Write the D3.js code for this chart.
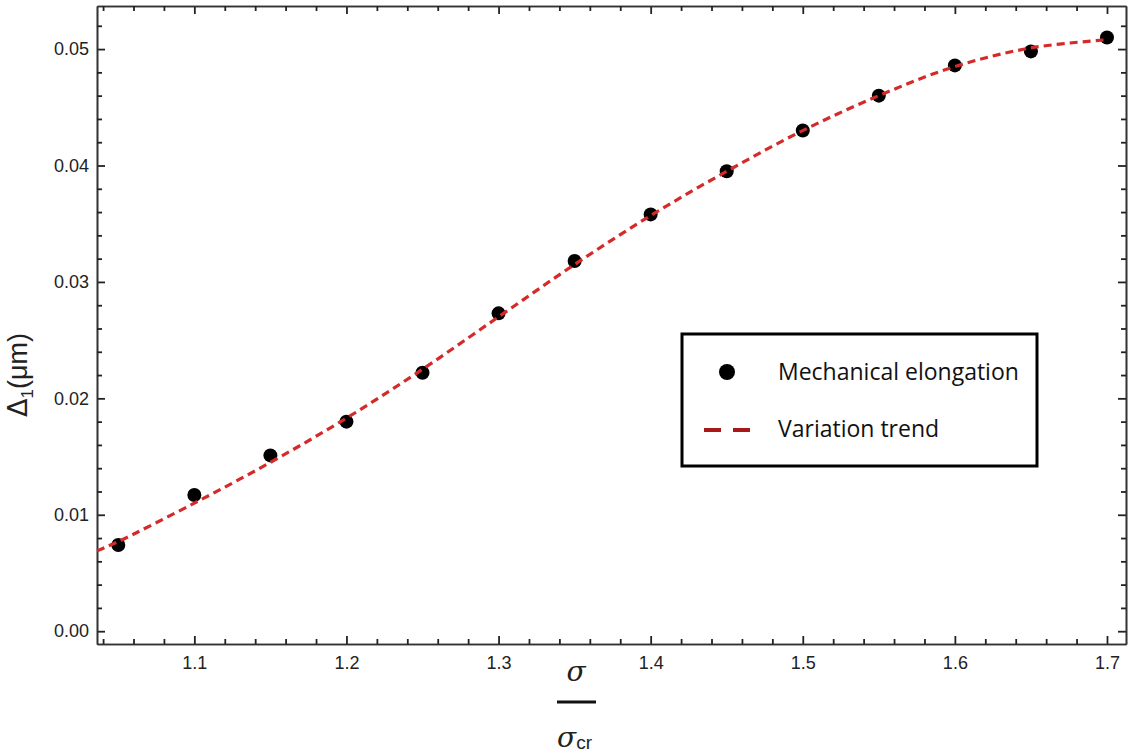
<!DOCTYPE html>
<html>
<head>
    <script src="https://d3js.org/d3.v7.min.js"></script>
    <style>
        body { margin: 0; background: #fff; }
        .tick text { font-family: "Liberation Sans", Arial, sans-serif; font-size: 18px; fill: #222; }
        .legend-text { font-family: "Open Sans", sans-serif; font-size: 23px; fill: #111; }
    </style>
</head>
<body>
    <div id="graph"></div>
    <script>
        // measured points (sigma / sigma_cr, elongation in um)
        const ratio = [1.05, 1.1, 1.15, 1.2, 1.25, 1.3, 1.35, 1.4, 1.45, 1.5, 1.55, 1.6, 1.65, 1.7];
        const elongation = [0.0074, 0.0117, 0.0151, 0.0180, 0.0222, 0.0273, 0.0318, 0.0358, 0.0395, 0.0430, 0.0460, 0.0486, 0.0498, 0.0510];

        // fitted trend line
        const trendX = [1.036, 1.05, 1.1, 1.15, 1.2, 1.25, 1.3, 1.35, 1.4, 1.45, 1.5, 1.55, 1.6, 1.65, 1.7];
        const trendY = [0.0069, 0.0077, 0.0110, 0.0145, 0.0183, 0.0225, 0.0270, 0.0315, 0.0357, 0.0395, 0.0430, 0.0460, 0.0485, 0.0501, 0.0508];

        const xTicks = [1.1, 1.2, 1.3, 1.4, 1.5, 1.6, 1.7];
        const yTicks = [0.00, 0.01, 0.02, 0.03, 0.04, 0.05];

        const legendLabels = ["Mechanical elongation", "Variation trend"];

        const W = 1129, H = 755;
        const margin = { top: 6, right: 3, bottom: 111, left: 97 };
        const width = W - margin.left - margin.right,
            height = H - margin.top - margin.bottom;

        const x = d3.scaleLinear().domain([1.036, 1.7125]).range([0, width]);
        const y = d3.scaleLinear().domain([-0.0011, 0.0537]).range([height, 0]);

        const svg = d3.select("#graph").append("svg")
            .attr("width", W)
            .attr("height", H);

        const g = svg.append("g")
            .attr("transform", "translate(" + margin.left + "," + margin.top + ")");

        // minor tick positions
        const xMinor = d3.range(1.04, 1.7125, 0.02).filter(v => !xTicks.some(t => Math.abs(t - v) < 1e-6));
        const yMinor = d3.range(0, 0.0537, 0.002).filter(v => !yTicks.some(t => Math.abs(t - v) < 1e-6));

        function styleAxis(sel) {
            sel.selectAll(".domain").attr("stroke", "#333").attr("stroke-width", 1.6);
            sel.selectAll(".tick line").attr("stroke", "#222").attr("stroke-width", 1.8);
        }

        // bottom axis with labels
        g.append("g")
            .attr("transform", "translate(0," + height + ")")
            .call(d3.axisBottom(x).tickValues(xTicks).tickFormat(d3.format(".1f")).tickSizeInner(-8).tickSizeOuter(0).tickPadding(12))
            .call(styleAxis);
        g.append("g")
            .attr("transform", "translate(0," + height + ")")
            .call(d3.axisBottom(x).tickValues(xMinor).tickFormat("").tickSizeInner(-5).tickSizeOuter(0))
            .call(styleAxis);

        // top axis, no labels
        g.append("g")
            .call(d3.axisTop(x).tickValues(xTicks).tickFormat("").tickSizeInner(-8).tickSizeOuter(0))
            .call(styleAxis);
        g.append("g")
            .call(d3.axisTop(x).tickValues(xMinor).tickFormat("").tickSizeInner(-5).tickSizeOuter(0))
            .call(styleAxis);

        // left axis with labels
        g.append("g")
            .call(d3.axisLeft(y).tickValues(yTicks).tickFormat(d3.format(".2f")).tickSizeInner(-8).tickSizeOuter(0).tickPadding(8))
            .call(styleAxis);
        g.append("g")
            .call(d3.axisLeft(y).tickValues(yMinor).tickFormat("").tickSizeInner(-5).tickSizeOuter(0))
            .call(styleAxis);

        // right axis, no labels
        g.append("g")
            .attr("transform", "translate(" + width + ",0)")
            .call(d3.axisRight(y).tickValues(yTicks).tickFormat("").tickSizeInner(-8).tickSizeOuter(0))
            .call(styleAxis);
        g.append("g")
            .attr("transform", "translate(" + width + ",0)")
            .call(d3.axisRight(y).tickValues(yMinor).tickFormat("").tickSizeInner(-5).tickSizeOuter(0))
            .call(styleAxis);

        // data points
        g.append("g")
            .selectAll("circle")
            .data(ratio.map((r, i) => [r, elongation[i]]))
            .join("circle")
            .attr("cx", d => x(d[0]))
            .attr("cy", d => y(d[1]))
            .attr("r", 7)
            .attr("fill", "#000");

        // trend line (drawn over the dots)
        const line = d3.line()
            .x(d => x(d[0]))
            .y(d => y(d[1]))
            .curve(d3.curveCatmullRom);

        g.append("path")
            .datum(trendX.map((v, i) => [v, trendY[i]]))
            .attr("d", line)
            .attr("fill", "none")
            .attr("stroke", "#d42a2a")
            .attr("stroke-width", 3.2)
            .attr("stroke-dasharray", "8,5");

        // y axis title
        const yTitle = svg.append("text")
            .attr("transform", "translate(27,375) rotate(-90)")
            .attr("text-anchor", "middle")
            .attr("font-family", "Liberation Sans, Arial, sans-serif")
            .attr("font-size", 27)
            .attr("fill", "#222");
        yTitle.append("tspan").attr("font-family", "DejaVu Sans, sans-serif").text("Δ");
        yTitle.append("tspan").attr("font-size", 17).attr("dy", 6).text("1");
        yTitle.append("tspan").attr("dy", -6).text("(μm)");

        // x axis title as a fraction
        svg.append("text")
            .attr("x", 576).attr("y", 681)
            .attr("text-anchor", "middle")
            .attr("font-family", "DejaVu Serif, serif")
            .attr("font-style", "italic")
            .attr("font-size", 28)
            .attr("fill", "#222")
            .text("σ");
        svg.append("line")
            .attr("x1", 557).attr("x2", 596)
            .attr("y1", 702).attr("y2", 702)
            .attr("stroke", "#111").attr("stroke-width", 3);
        const xDen = svg.append("text")
            .attr("x", 557).attr("y", 747)
            .attr("font-family", "DejaVu Serif, serif")
            .attr("font-size", 28)
            .attr("fill", "#222");
        xDen.append("tspan").attr("font-style", "italic").text("σ");
        xDen.append("tspan").attr("font-family", "Liberation Sans, Arial, sans-serif").attr("font-size", 19).attr("dy", 2).text("cr");

        // legend
        const legend = svg.append("g").attr("transform", "translate(682,334)");
        legend.append("rect")
            .attr("width", 355).attr("height", 132)
            .attr("fill", "#fff")
            .attr("stroke", "#000").attr("stroke-width", 3);
        legend.append("circle")
            .attr("cx", 45).attr("cy", 38).attr("r", 8).attr("fill", "#000");
        legend.append("line")
            .attr("x1", 22).attr("x2", 76)
            .attr("y1", 96).attr("y2", 96)
            .attr("stroke", "#a81818").attr("stroke-width", 4)
            .attr("stroke-dasharray", "17,12");
        legend.selectAll(".legend-text")
            .data(legendLabels)
            .join("text")
            .attr("class", "legend-text")
            .attr("x", 96)
            .attr("y", (d, i) => 46 + i * 57)
            .text(d => d);
    </script>
</body>
</html>
